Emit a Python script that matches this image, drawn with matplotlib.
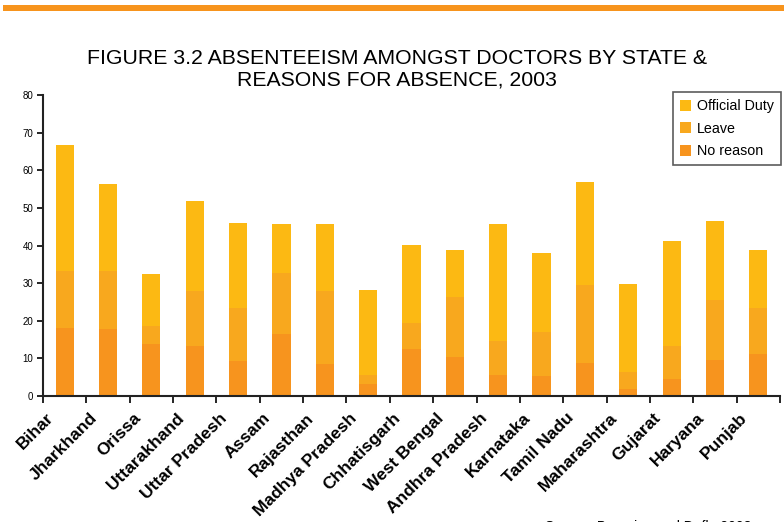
import matplotlib
matplotlib.use('Agg')
import matplotlib.pyplot as plt
from matplotlib.patches import Rectangle
from matplotlib.transforms import ScaledTranslation
import numpy as np

plt.rcParams['font.family'] = ['Liberation Sans', 'DejaVu Sans']

## estados
states = ['Bihar', 'Jharkhand', 'Orissa', 'Uttarakhand', 'Uttar Pradesh', 'Assam',
          'Rajasthan', 'Madhya Pradesh', 'Chhatisgarh', 'West Bengal', 'Andhra Pradesh',
          'Karnataka', 'Tamil Nadu', 'Maharashtra', 'Gujarat', 'Haryana', 'Punjab']
## porcentajes acumulados
total = [66.8, 56.4, 32.5, 51.9, 46.1, 45.8, 45.8, 28.3, 40.2, 38.9, 45.8, 38.1, 56.9, 29.9, 41.3, 46.6, 38.9]
leave_top = [33.1, 33.1, 18.5, 28.0, 23.5, 32.8, 27.8, 5.7, 19.3, 26.4, 14.5, 16.9, 29.6, 6.5, 13.4, 25.4, 23.3]
no_reason = [18.2, 17.9, 13.7, 13.2, 9.2, 16.6, 8.4, 3.1, 12.6, 10.3, 5.7, 5.2, 8.7, 1.8, 4.4, 9.7, 11.1]

no_reason = np.array(no_reason)
leave = np.array(leave_top) - no_reason
official = np.array(total) - np.array(leave_top)

fig = plt.figure(figsize=(7.84, 5.22), dpi=100)
ax = fig.add_axes([43/784, 1-396/522, (780-43)/784, (396-95)/522])

x = np.arange(len(states))
w = 0.42
ax.bar(x, no_reason, w, color='#F7941E', label='No reason')
ax.bar(x, leave, w, bottom=no_reason, color='#F8A81E', label='Leave')
ax.bar(x, official, w, bottom=no_reason+leave, color='#FCB913', label='Official Duty')

ax.set_xlim(-0.5, len(states)-0.5)
ax.set_ylim(0, 80)
ax.set_yticks(range(0, 81, 10))
ax.tick_params(axis='y', labelsize=7, length=4, width=1.2, direction='out', pad=3)

ax.set_xticks(x)
ax.set_xticklabels(states, rotation=45, ha='right', va='bottom', rotation_mode='anchor',
                   fontsize=12.5, fontweight='bold')
ax.tick_params(axis='x', which='major', length=0, pad=18)
shift = ScaledTranslation(-8/100, 0, fig.dpi_scale_trans)
for t in ax.get_xticklabels():
    t.set_transform(t.get_transform() + shift)
ax.set_xticks(np.arange(-0.5, len(states)), minor=True)
ax.tick_params(axis='x', which='minor', length=5, width=1.2, direction='out')

for s in ['top', 'right']:
    ax.spines[s].set_visible(False)
for s in ['left', 'bottom']:
    ax.spines[s].set_linewidth(1.5)
    ax.spines[s].set_color('#222222')

h, l = ax.get_legend_handles_labels()
leg = ax.legend(h[::-1], l[::-1], loc='upper right', bbox_to_anchor=(1.0014, 1.01),
                borderaxespad=0, fontsize=10.3, fancybox=False, handlelength=0.8,
                handleheight=0.8, handletextpad=0.4, borderpad=0.5, labelspacing=0.6)
leg.get_frame().set_edgecolor('#333333')
leg.get_frame().set_linewidth(1.2)

fig.text(397/784, 1-69/522, 'FIGURE 3.2 ABSENTEEISM AMONGST DOCTORS BY STATE &\nREASONS FOR ABSENCE, 2003',
         ha='center', va='center', fontsize=15.3, linespacing=1.2)

fig.add_artist(Rectangle((3/784, 1-11/522), 1, 6/522, transform=fig.transFigure,
                         color='#F7941D', lw=0))

fig.text(545/784, 1-520/522, 'Source: Banerjee and Duflo 2003', ha='left', va='top', fontsize=10)

fig.savefig('out.png', dpi=100)
